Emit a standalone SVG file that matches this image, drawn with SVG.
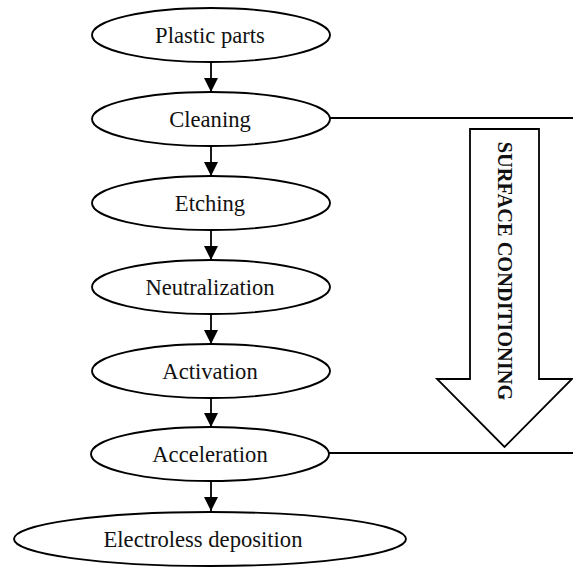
<svg xmlns="http://www.w3.org/2000/svg" width="573" height="567" viewBox="0 0 573 567">
<style>
.node ellipse{fill:#fff;stroke:#000;stroke-width:1.9}
.node text{font-family:"Liberation Serif","Times New Roman",serif;font-size:22.6px;text-anchor:middle;fill:#111}
.conn line{stroke:#000;stroke-width:1.8}
.big{fill:#fff;stroke:#000;stroke-width:1.8}
.lbl{font-family:"Liberation Serif","Times New Roman",serif;font-size:20.4px;font-weight:bold;text-anchor:middle;fill:#111}
</style>
<defs>
<marker id="ah" markerUnits="userSpaceOnUse" markerWidth="14" markerHeight="15" refX="14" refY="7" orient="auto">
<path d="M0,0 L14,7 L0,14 Z" fill="#000"/>
</marker>
</defs>
<g class="conn">
<line x1="211" y1="62" x2="211" y2="92" marker-end="url(#ah)"/>
<line x1="211" y1="146" x2="211" y2="176" marker-end="url(#ah)"/>
<line x1="211" y1="230" x2="211" y2="260" marker-end="url(#ah)"/>
<line x1="211" y1="314" x2="211" y2="344" marker-end="url(#ah)"/>
<line x1="211" y1="398" x2="211" y2="427" marker-end="url(#ah)"/>
<line x1="211" y1="481" x2="211" y2="511" marker-end="url(#ah)"/>
<line x1="329" y1="118" x2="573" y2="118"/>
<line x1="329" y1="453" x2="573" y2="453"/>
</g>
<g id="arrow-surface">
<polygon class="big" points="470,129 539,129 539,379 572,379 504.5,447 437,379 470,379"/>
<text class="lbl" transform="translate(505,271) rotate(90)" x="0" y="7">SURFACE CONDITIONING</text>
</g>
<g id="n1" class="node"><ellipse cx="211" cy="35" rx="119" ry="27"/><text x="210" y="43">Plastic parts</text></g>
<g id="n2" class="node"><ellipse cx="211" cy="119" rx="119" ry="27"/><text x="210" y="127">Cleaning</text></g>
<g id="n3" class="node"><ellipse cx="211" cy="203" rx="119" ry="27"/><text x="210" y="211">Etching</text></g>
<g id="n4" class="node"><ellipse cx="211" cy="287" rx="119" ry="27"/><text x="210" y="295">Neutralization</text></g>
<g id="n5" class="node"><ellipse cx="211" cy="371" rx="119" ry="27"/><text x="210" y="379">Activation</text></g>
<g id="n6" class="node"><ellipse cx="210" cy="454" rx="119" ry="27"/><text x="210" y="462">Acceleration</text></g>
<g id="n7" class="node"><ellipse cx="210" cy="539" rx="196" ry="27"/><text x="203" y="547">Electroless deposition</text></g>
</svg>
